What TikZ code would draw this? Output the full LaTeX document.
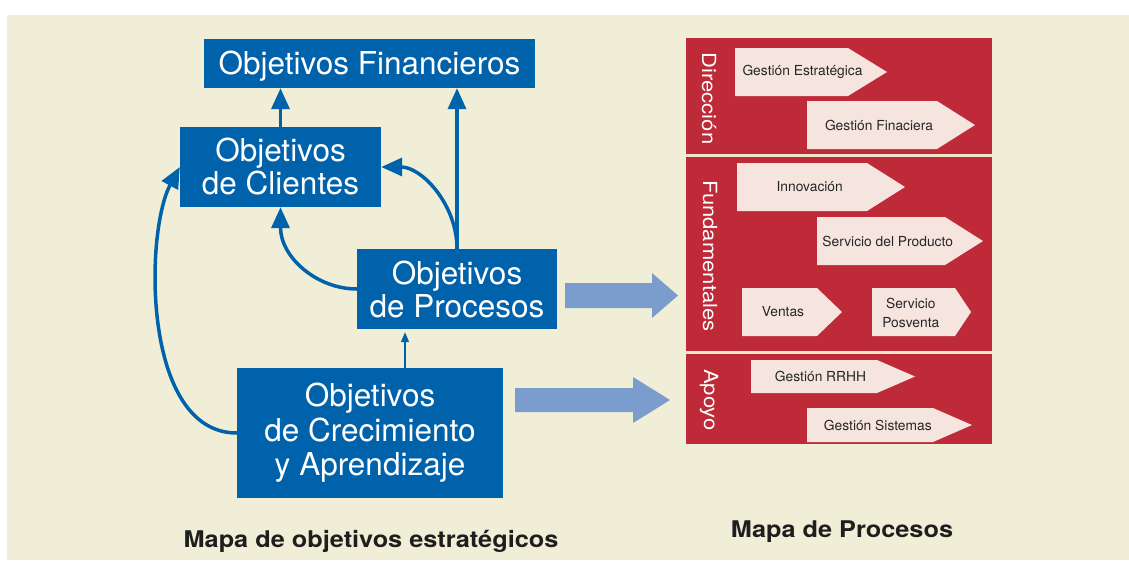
\documentclass[tikz,border=0pt]{standalone}
\usepackage{fontspec}
\setmainfont{TeX Gyre Heros}
\newfontfamily\widefont[FakeStretch=1.13]{TeX Gyre Heros}
\newfontfamily\titlefont[FakeStretch=1.1]{TeX Gyre Heros}
\usetikzlibrary{arrows.meta,calc}
\definecolor{bgc}{HTML}{F0EED6}
\definecolor{bluec}{HTML}{0062AA}
\definecolor{redc}{HTML}{BE2A37}
\definecolor{lbluec}{HTML}{7A9DCD}
\definecolor{chevc}{HTML}{F6E5DF}
\definecolor{divc}{HTML}{F0E6CC}
\definecolor{ctextc}{HTML}{262626}
\definecolor{titlec}{HTML}{1E1E1E}
\newcommand{\mychev}[5]{\fill[chevfill] (#1,#4) -- (#2,#4) -- (#3,{(#4+#5)/2}) -- (#2,#5) -- (#1,#5) -- cycle;}
\begin{document}
\begin{tikzpicture}[x=1pt,y=-1pt,
  bbox/.style={fill=bluec, text=white, font=\fontsize{31.5}{33}\selectfont, align=center, inner sep=0pt},
  conn/.style={draw=bluec, line width=3.5pt, -{Triangle[width=18pt,length=21pt]}},
  thinconn/.style={draw=bluec, line width=1.3pt, -{Triangle[width=8pt,length=10pt]}, shorten >=3pt},
  bigarrow/.style={fill=lbluec},
  chevfill/.style={fill=chevc},
  ctext/.style={text=ctextc, font=\fontsize{13.8}{18.5}\selectfont, align=center, inner sep=0pt},
  seclabel/.style={text=white, font=\widefont\fontsize{19.5}{22}\selectfont, rotate=-90, inner sep=0pt},
  title/.style={text=titlec, font=\titlefont\bfseries\fontsize{23}{26}\selectfont, inner sep=0pt}
]
\useasboundingbox (0,0) rectangle (1129,560);
\fill[white] (0,0) rectangle (1129,560);
\fill[bgc] (7,15) rectangle (1129,560);

% blue boxes
\node[bbox, minimum width=331pt, minimum height=49pt, text depth=0pt, text height=22.6pt] (fin) at (369.5,63.5) {Objetivos Financieros};
\node[bbox, minimum width=201pt, minimum height=80pt] (cli) at (280.5,167) {Objetivos\\de Clientes};
\node[bbox, minimum width=200pt, minimum height=80pt] (pro) at (457,289) {Objetivos\\de Procesos};
\node[bbox, minimum width=266pt, minimum height=130pt, font=\fontsize{31.5}{34.5}\selectfont] (cre) at (370,433) {Objetivos\\de Crecimiento\\y Aprendizaje};

% connectors
\draw[conn] (cli.north) -- (cli.north |- fin.south);
\draw[conn] (pro.north) -- (pro.north |- fin.south);
\draw[conn] (pro.west) .. controls +(-40,0) and +(0,50) .. (cli.south);
\draw[conn] (pro.north) .. controls +(0,-45) and +(40,0) .. (cli.east);
\draw[conn] (cre.west) .. controls +(-95,0) and +(-35,65) .. (cli.west);
\draw[thinconn] ([xshift=35pt]cre.north) -- ([xshift=35pt]cre.north |- pro.south);

% big arrows
\fill[bigarrow] (565,283) -- (652,283) -- (652,273) -- (678,295.5) -- (652,318) -- (652,308) -- (565,308) -- cycle;
\fill[bigarrow] (515,388) -- (633,388) -- (633,377) -- (670,400) -- (633,423) -- (633,412) -- (515,412) -- cycle;

% red panel
\fill[redc] (686,38) rectangle (992,444);
\draw[divc, line width=2.5pt] (686,155.5) -- (992,155.5);
\draw[divc, line width=2.5pt] (686,352.5) -- (992,352.5);

\node[seclabel] (dir) at (709,98.5) {Dirección};
\node[seclabel] (fun) at (710,256) {Fundamentales};
\node[seclabel] (apo) at (709,400) {Apoyo};

% chevrons
\mychev{735}{848}{887}{48}{96}
\mychev{807}{937}{975}{101}{149}
\mychev{737}{867}{905}{163}{211}
\mychev{817}{945}{983}{217}{265}
\mychev{742}{817}{842}{288}{336}
\mychev{872}{955}{971}{288}{336}
\mychev{751}{877}{915}{360}{393}
\mychev{807}{933}{972}{408}{442}

\node[ctext] (ge) at (802.5,72) {Gestión Estratégica};
\node[ctext] (gf) at (879,125.5) {Gestión Finaciera};
\node[ctext] (inn) at (809.7,186.5) {Innovación};
\node[ctext] (sdp) at (887.7,241.5) {Servicio del Producto};
\node[ctext] (ven) at (783,312) {Ventas};
\node[ctext] (spv) at (910.8,313) {Servicio\\Posventa};
\node[ctext] (rrhh) at (820.5,376.5) {Gestión RRHH};
\node[ctext] (gsi) at (877.8,425.5) {Gestión Sistemas};

% titles
\node[title] (t1) at (371,541) {Mapa de objetivos estratégicos};
\node[title] (t2) at (842,532) {Mapa de Procesos};
\end{tikzpicture}
\end{document}
